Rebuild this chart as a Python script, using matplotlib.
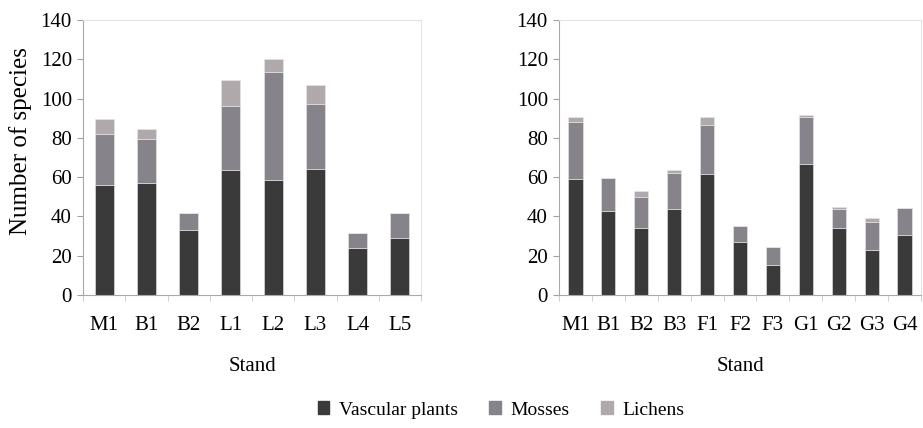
import numpy as np
import matplotlib.pyplot as plt
from matplotlib.patches import Patch

plt.rcParams['font.family'] = ['Liberation Serif', 'DejaVu Serif']

stands_a = ['M1', 'B1', 'B2', 'L1', 'L2', 'L3', 'L4', 'L5']
vasc_a = [56, 57, 33, 63.5, 58.5, 64, 24, 29]
moss_a = [26, 22.5, 9, 32.5, 55, 33, 7.5, 13]
lich_a = [7.5, 5, 0, 13.5, 6.5, 10, 0, 0]

stands_b = ['M1', 'B1', 'B2', 'B3', 'F1', 'F2', 'F3', 'G1', 'G2', 'G3', 'G4']
vasc_b = [59, 43, 34, 44, 61.5, 27, 15.5, 66.5, 34, 23, 30.5]
moss_b = [29, 16.5, 16, 18, 25, 8, 9, 24, 10, 14, 14]
lich_b = [2.5, 0, 3, 1.5, 4, 0, 0, 1, 1, 2, 0]

c_vasc = '#3a3a3a'
c_moss = '#86848a'
c_lich = '#b0a9ab'

fig = plt.figure(figsize=(9.23, 4.28), dpi=100)
ax1 = fig.add_axes([83/923, 1-295/428, 338/923, 275/428])
ax2 = fig.add_axes([559/923, 1-295/428, 362/923, 275/428])


def draw(ax, names, v, m, l, w):
    x = np.arange(len(names))
    v = np.array(v)
    m = np.array(m)
    l = np.array(l)
    ax.bar(x, v, w, color=c_vasc, edgecolor='#e8e8e8', linewidth=0.4)
    ax.bar(x, m, w, bottom=v, color=c_moss, edgecolor='#e8e8e8', linewidth=0.4)
    ax.bar(x, l, w, bottom=v + m, color=c_lich, edgecolor='#e8e8e8', linewidth=0.4)
    ax.set_xlim(-0.5, len(names) - 0.5)
    ax.set_ylim(0, 140)
    ax.set_yticks(range(0, 141, 20))
    ax.set_xticks(x)
    ax.set_xticklabels(names)
    ax.set_xticks(np.arange(-0.5, len(names), 1), minor=True)
    ax.tick_params(axis='x', which='major', length=0, labelsize=15, pad=15)
    ax.tick_params(axis='x', which='minor', length=4, color='#c8c8c8', direction='out')
    ax.tick_params(axis='y', length=4, color='#a0a0a0', labelsize=15, pad=4)
    for s in ['top', 'right']:
        ax.spines[s].set_color('#e4e4e4')
    for s in ['left', 'bottom']:
        ax.spines[s].set_color('#a8a8a8')
    ax.set_xlabel('Stand', fontsize=15, labelpad=16)


draw(ax1, stands_a, vasc_a, moss_a, lich_a, 0.45)
draw(ax2, stands_b, vasc_b, moss_b, lich_b, 0.43)
ax1.set_ylabel('Number of species', fontsize=18)
ax1.yaxis.set_label_coords(-0.15, 0.56)

handles = [Patch(color=c_vasc, label='Vascular plants'),
           Patch(color=c_moss, label='Mosses'),
           Patch(color=c_lich, label='Lichens')]
fig.legend(handles=handles, loc='center', bbox_to_anchor=(501/923, 1-410/428), ncol=3,
           frameon=False, fontsize=14, handlelength=0.6, handleheight=0.6,
           handletextpad=0.5, columnspacing=1.6)

fig.savefig('out.png', dpi=100)
